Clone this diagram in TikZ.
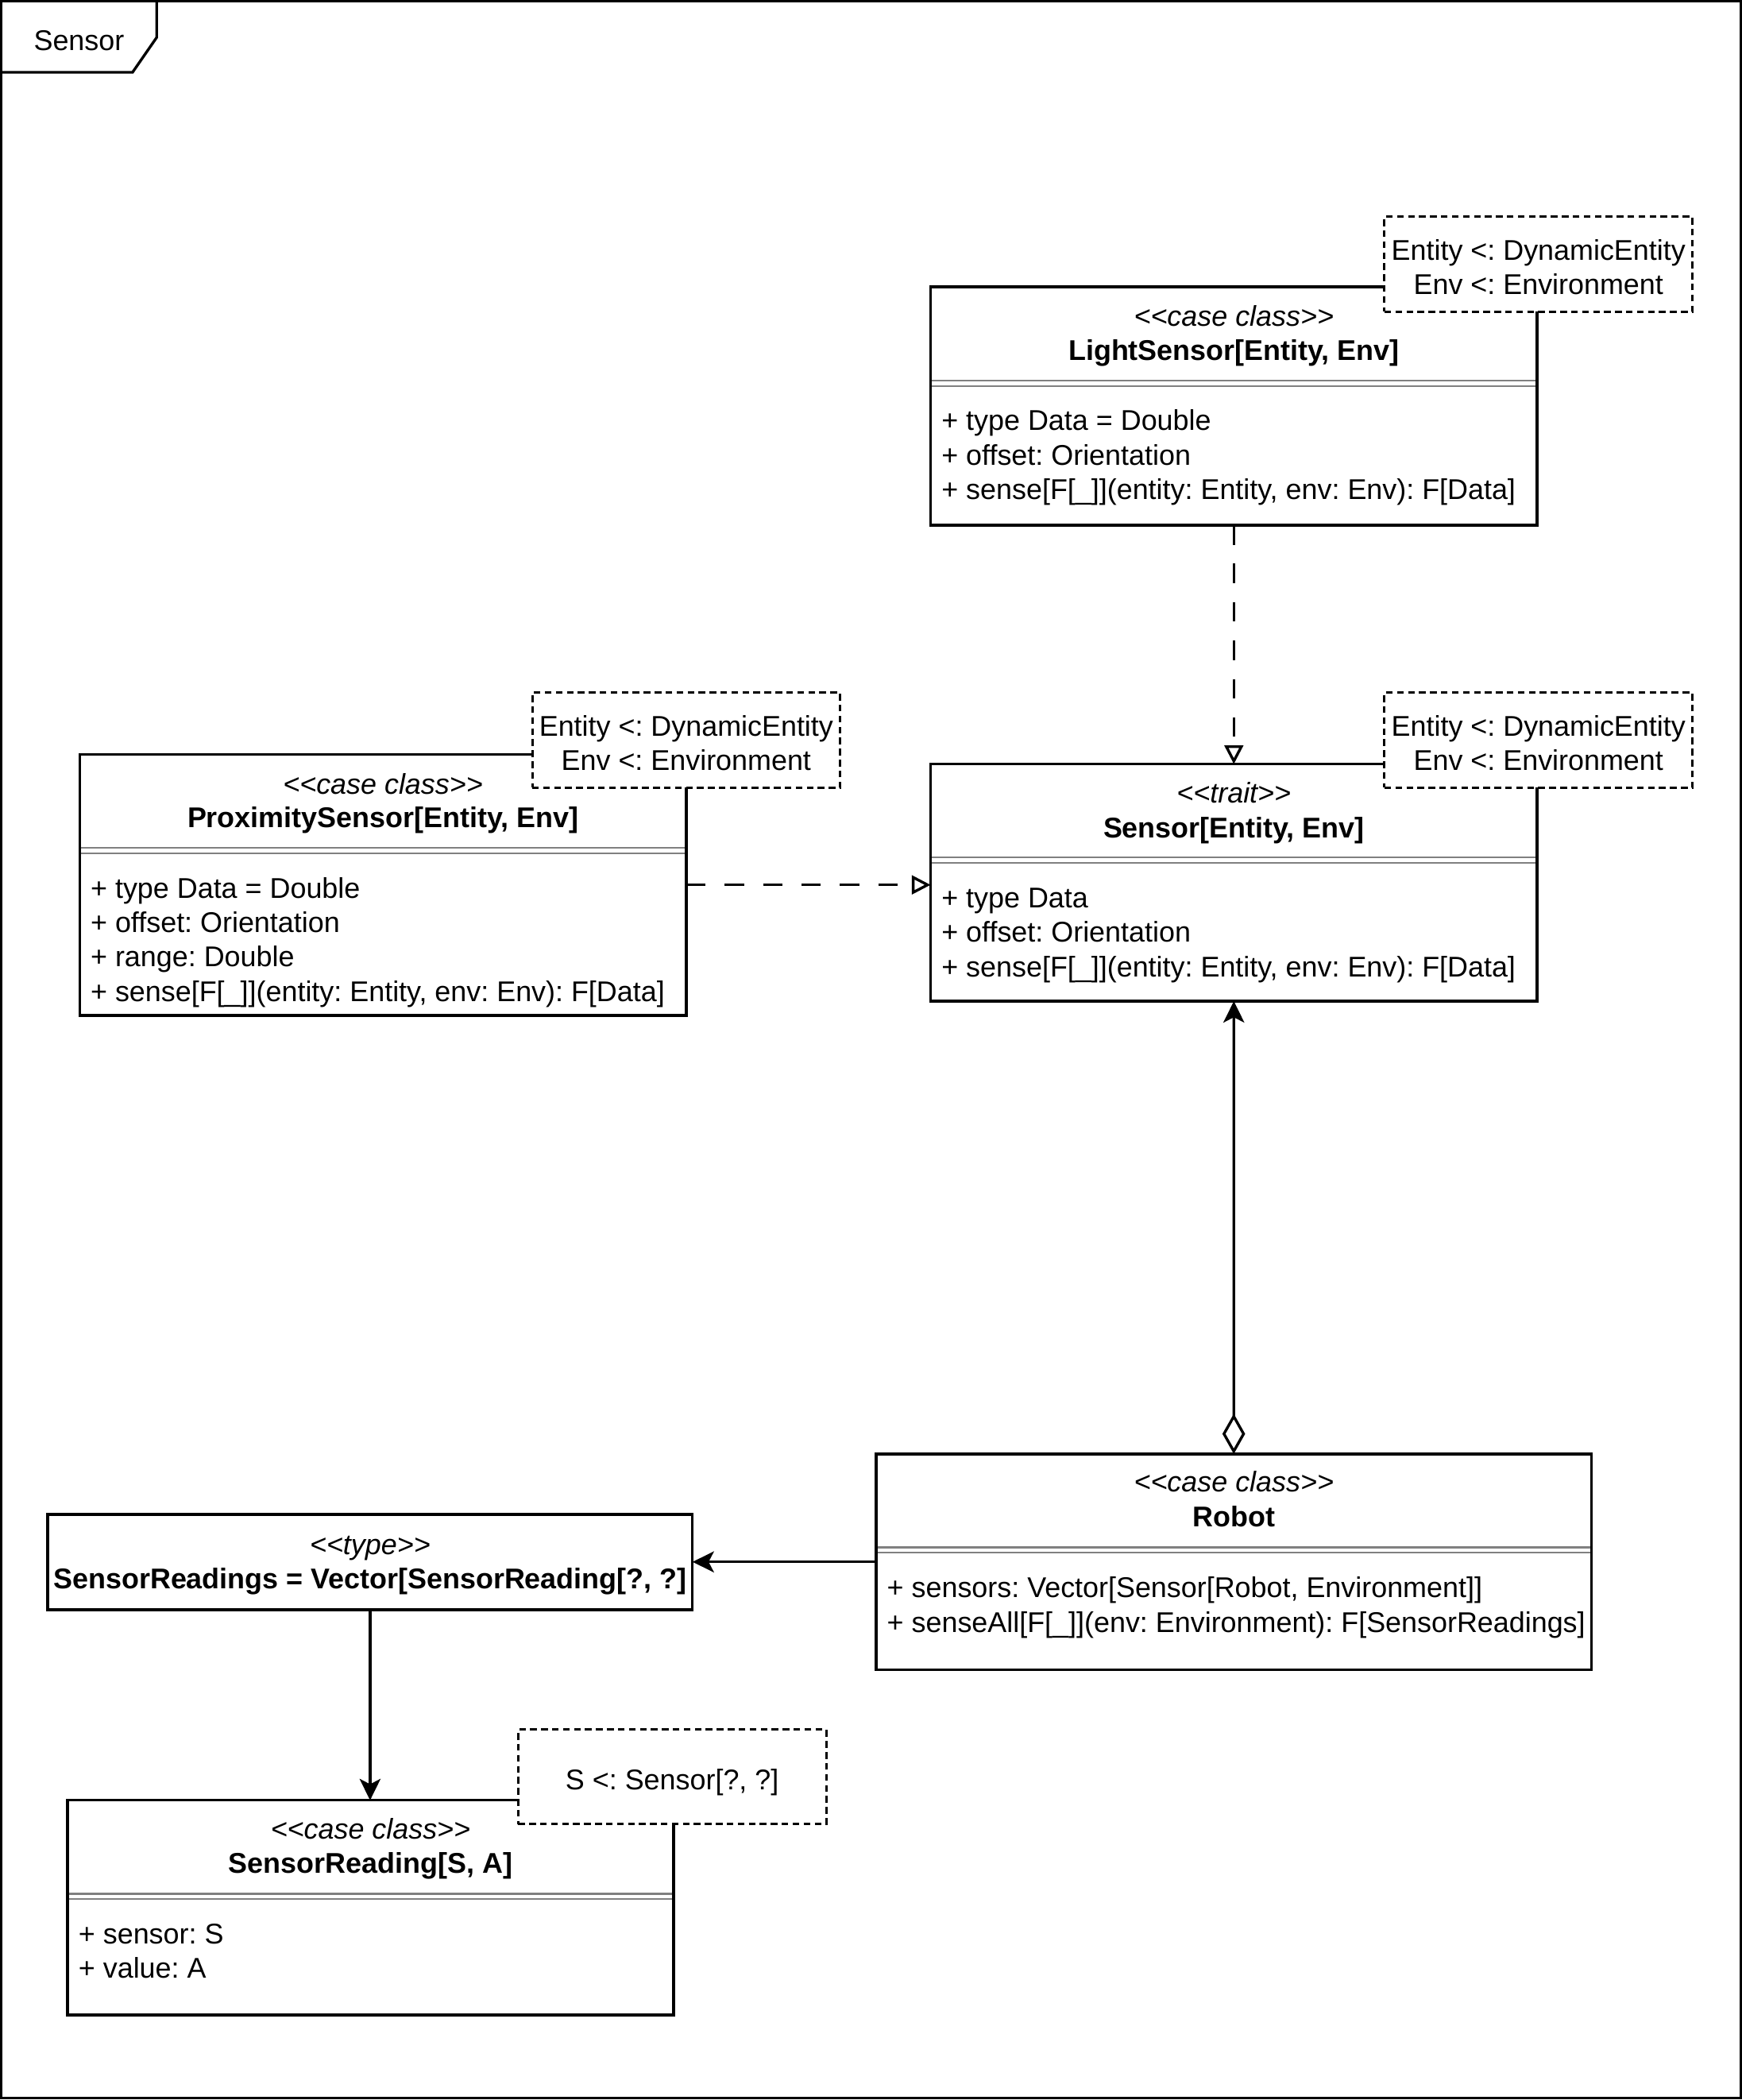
\documentclass[tikz,border=0pt]{standalone}
\usepackage{fontspec}
\setmainfont{Liberation Sans}[Ligatures=TeXOff]
\usetikzlibrary{arrows.meta}
\newcommand{\bfs}{\fontsize{21.3}{25.7}\selectfont}
\frenchspacing
\begin{document}
\begin{tikzpicture}[x=1pt,y=-1pt,font=\bfs,
  box/.style={draw,line width=2pt,fill=white,inner sep=0pt,outer sep=0pt,anchor=north west},
  note/.style={draw,line width=1.8pt,dash pattern=on 5pt off 3.2pt,fill=white,inner sep=0pt,outer sep=0pt,anchor=north west,align=center,minimum width=230pt,minimum height=71pt},
  stereo/.style={inner sep=0pt,anchor=base,font=\bfs\itshape},
  cname/.style={inner sep=0pt,anchor=base,font=\bfs\bfseries},
  attr/.style={inner sep=0pt,anchor=base west},
  divline/.style={draw=gray,line width=1.3pt},
  conn/.style={draw,line width=2pt},
  dconn/.style={conn,dash pattern=on 14.5pt off 14.2pt},
  realize/.style={-{Triangle[open,length=14pt,width=14pt]}},
  classic/.style={-{Stealth[length=16pt,width=15.6pt,inset=4pt]}}
]
\useasboundingbox (0,0) rectangle (1301,1568);
% frame
\node[draw,line width=2pt,inner sep=0pt,outer sep=0pt,anchor=north west,minimum width=1299pt,minimum height=1565.5pt] (frame) at (1,1) {};
\draw[line width=2pt] (1,54) -- (99,54) -- (117,28) -- (117,1);
\node[inner sep=0pt,anchor=base] (framelabel) at (59,37.5) {Sensor};

% LightSensor
\node[box,minimum width=453pt,minimum height=178pt] (ls) at (695,214.2) {};
\node[stereo] (lsst) at (921.5,243.7) {<<case class>>};
\node[cname] (lsnm) at (921.5,269) {LightSensor[Entity, Env]};
\draw[divline] (696,284.3) -- (1147,284.3);
\draw[divline] (696,288.3) -- (1147,288.3);
\node[attr] (lsa1) at (703,321.5) {+ type Data = Double};
\node[attr] (lsa2) at (703,347.2) {+ offset: Orientation};
\node[attr] (lsa3) at (703,372.9) {+ sense[F[\_]](entity: Entity, env: Env): F[Data]};
\node[note] (lsn) at (1034,161.8) {\rule{0pt}{19.5pt}Entity <: DynamicEntity\\Env <: Environment};

% Sensor
\node[box,minimum width=453pt,minimum height=177pt] (sn) at (695,570.5) {};
\node[stereo] (snst) at (921.5,599.5) {<<trait>>};
\node[cname] (snnm) at (921.5,625.3) {Sensor[Entity, Env]};
\draw[divline] (696,640.3) -- (1147,640.3);
\draw[divline] (696,644.3) -- (1147,644.3);
\node[attr] (sna1) at (703,677.8) {+ type Data};
\node[attr] (sna2) at (703,703.5) {+ offset: Orientation};
\node[attr] (sna3) at (703,729.2) {+ sense[F[\_]](entity: Entity, env: Env): F[Data]};
\node[note] (snn) at (1034,517.2) {\rule{0pt}{19.5pt}Entity <: DynamicEntity\\Env <: Environment};

% ProximitySensor
\node[box,minimum width=453pt,minimum height=195pt] (px) at (59.5,563.2) {};
\node[stereo] (pxst) at (286,592.7) {<<case class>>};
\node[cname] (pxnm) at (286,618) {ProximitySensor[Entity, Env]};
\draw[divline] (60.5,633) -- (511.5,633);
\draw[divline] (60.5,637) -- (511.5,637);
\node[attr] (pxa1) at (67.5,670.5) {+ type Data = Double};
\node[attr] (pxa2) at (67.5,696.2) {+ offset: Orientation};
\node[attr] (pxa3) at (67.5,721.9) {+ range: Double};
\node[attr] (pxa4) at (67.5,747.6) {+ sense[F[\_]](entity: Entity, env: Env): F[Data]};
\node[note] (pxn) at (397.5,517.2) {\rule{0pt}{19.5pt}Entity <: DynamicEntity\\Env <: Environment};

% Robot
\node[box,minimum width=534.3pt,minimum height=161.2pt] (rb) at (654.3,1085.6) {};
\node[stereo] (rbst) at (921.5,1114.1) {<<case class>>};
\node[cname] (rbnm) at (921.5,1140) {Robot};
\draw[divline] (655.3,1155.4) -- (1187.6,1155.4);
\draw[divline] (655.3,1159.4) -- (1187.6,1159.4);
\node[attr] (rba1) at (662.3,1192.9) {+ sensors: Vector[Sensor[Robot, Environment]]};
\node[attr] (rba2) at (662.3,1218.6) {+ senseAll[F[\_]](env: Environment): F[SensorReadings]};

% SensorReadings
\node[box,minimum width=481.6pt,minimum height=71.2pt] (srs) at (35.6,1130.7) {};
\node[stereo] (srsst) at (276.4,1161) {<<type>>};
\node[cname] (srsnm) at (276.4,1186) {SensorReadings = Vector[SensorReading[?, ?]};

% SensorReading
\node[box,minimum width=452.5pt,minimum height=160.2pt] (sr) at (50.5,1344.2) {};
\node[stereo] (srst) at (276.75,1373) {<<case class>>};
\node[cname] (srnm) at (276.75,1398.6) {SensorReading[S, A]};
\draw[divline] (51.5,1414) -- (502,1414);
\draw[divline] (51.5,1418) -- (502,1418);
\node[attr] (sra1) at (58.5,1451.5) {+ sensor: S};
\node[attr] (sra2) at (58.5,1477.2) {+ value: A};
\node[note,minimum height=70.5pt] (srn) at (387,1291.5) {\rule{0pt}{23.5pt}S <: Sensor[?, ?]};

% connectors
\draw[dconn,realize] (ls.south) -- (sn.north);
\draw[dconn,realize] (px.east) -- (px.east -| sn.west);
\draw[conn,{Diamond[open,length=30pt,width=17pt]}-{Stealth[length=16pt,width=15.6pt,inset=4pt]}] (rb.north) -- (sn.south);
\draw[conn,classic] (rb.west) -- (rb.west -| srs.east);
\draw[conn,classic] (srs.south) -- (srs.south |- sr.north);
\end{tikzpicture}
\end{document}
